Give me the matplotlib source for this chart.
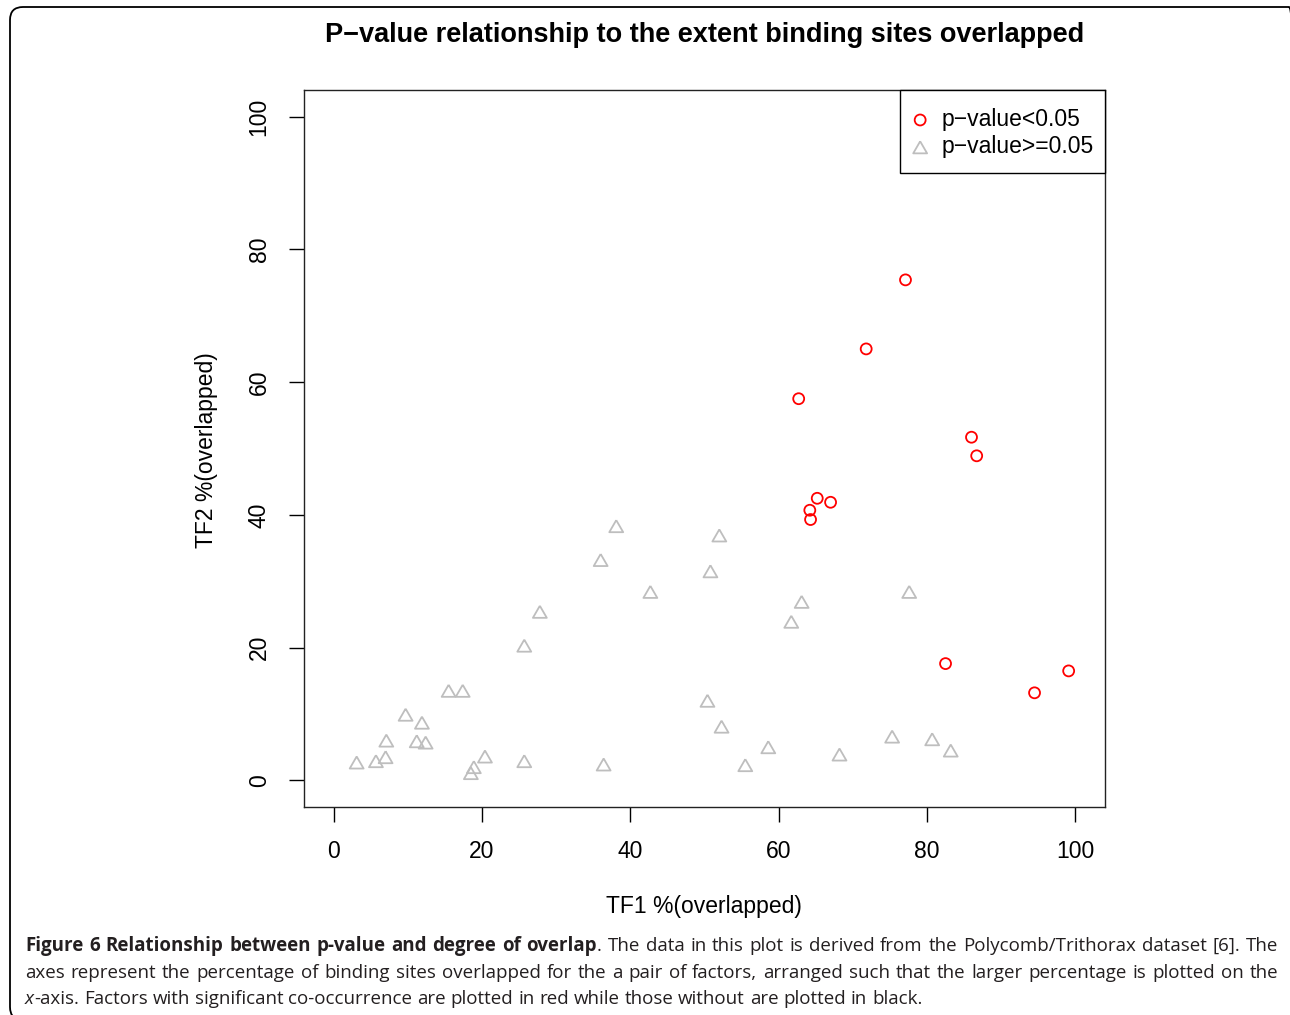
import matplotlib
matplotlib.use('Agg')
import matplotlib.pyplot as plt
from matplotlib.patches import FancyBboxPatch, Rectangle
from matplotlib.transforms import IdentityTransform

# ---------------- data ----------------
sig_x = [77.1, 71.8, 62.7, 86.0, 86.7, 65.2, 67.0, 64.2, 64.3, 82.5, 94.5, 99.1]
sig_y = [75.4, 65.0, 57.5, 51.7, 48.9, 42.5, 41.9, 40.7, 39.3, 17.6, 13.2, 16.5]

ns_x = [38.1, 52.0, 36.0, 50.8, 42.7, 77.6, 63.1, 27.8, 61.7, 25.7, 15.5, 17.4,
        50.4, 9.7, 11.9, 52.3, 7.1, 11.2, 12.4, 75.3, 80.7, 58.6, 83.2, 20.4,
        68.2, 7.0, 3.1, 5.7, 25.7, 36.4, 55.5, 18.9, 18.5]
ns_y = [38.3, 36.9, 33.2, 31.5, 28.4, 28.4, 26.9, 25.4, 23.9, 20.3, 13.5, 13.5,
        12.0, 9.9, 8.7, 8.1, 6.0, 5.9, 5.7, 6.6, 6.2, 5.0, 4.5, 3.6,
        3.9, 3.5, 2.7, 2.9, 2.9, 2.4, 2.3, 2.0, 1.1]

ticks = [0, 20, 40, 60, 80, 100]
tick_labels = ['0', '20', '40', '60', '80', '100']
legend_labels = ['p\u2212value<0.05', 'p\u2212value>=0.05']
title = 'P\u2212value relationship to the extent binding sites overlapped'
xlabel = 'TF1 %(overlapped)'
ylabel = 'TF2 %(overlapped)'

caption_lines = [
    [[('Figure', 'bold', 'normal')], [('6', 'bold', 'normal')], [('Relationship', 'bold', 'normal')],
     [('between', 'bold', 'normal')], [('p-value', 'bold', 'normal')], [('and', 'bold', 'normal')],
     [('degree', 'bold', 'normal')], [('of', 'bold', 'normal')],
     [('overlap', 'bold', 'normal'), ('.', 'normal', 'normal')]]
    + [[(w, 'normal', 'normal')] for w in
       'The data in this plot is derived from the Polycomb/Trithorax dataset [6]. The'.split()],
    [[(w, 'normal', 'normal')] for w in
     ('axes represent the percentage of binding sites overlapped for the a pair of factors, '
      'arranged such that the larger percentage is plotted on the').split()],
    [[('x', 'normal', 'italic'), ('-axis.', 'normal', 'normal')]]
    + [[(w, 'normal', 'normal')] for w in
       'Factors with significant co-occurrence are plotted in red while those without are plotted in black.'.split()],
]

# ---------------- figure ----------------
W, H = 1290, 1015
fig = plt.figure(figsize=(W / 100, H / 100), dpi=100)


def fx(x):
    return x / W


def fy(y):
    return 1 - y / H


# rounded outer frame (pixel coordinates); right and bottom edges run off the page
frame = FancyBboxPatch((10, H - 1020), 1302 - 10, 1020 - 7,
                       boxstyle='round,pad=0,rounding_size=13',
                       transform=IdentityTransform(), fill=False, edgecolor='black',
                       linewidth=1.3, clip_on=False)
fig.patches.append(frame)

sans = ['Liberation Sans', 'DejaVu Sans']
base = 16.5

ax = fig.add_axes([fx(304), fy(807), (1105 - 304) / W, (807 - 90) / H])
ax.set_xlim(-4, 104)
ax.set_ylim(-4, 104)

tri = [(0, 0.75), (-0.866, -0.75), (0.866, -0.75), (0, 0.75)]
h_ns = ax.scatter(ns_x, ns_y, marker=tri, s=100, facecolors='none',
                  edgecolors='#BEBEBE', linewidths=1.3, zorder=3)
h_sig = ax.scatter(sig_x, sig_y, marker='o', s=62, facecolors='none',
                   edgecolors='#FF0000', linewidths=1.3, zorder=4)

ax.set_xticks(ticks)
ax.set_xticklabels(tick_labels, fontfamily=sans, fontsize=base)
ax.set_yticks(ticks)
ax.set_yticklabels(tick_labels, fontfamily=sans, fontsize=base, rotation=90, va='center')
ax.tick_params(length=10.5, width=1.0, direction='out', pad=13.5, colors='black')
for sp in ax.spines.values():
    sp.set_linewidth(1.0)
    sp.set_color('#222222')

# legend box (R style: flush with the top-right corner)
ax.add_patch(Rectangle((fx(900), fy(173)), fx(1105) - fx(900), fy(90) - fy(173),
                       transform=fig.transFigure, facecolor='white', edgecolor='black',
                       linewidth=1.0, zorder=4.5, clip_on=False))
leg = ax.legend([h_sig, h_ns], legend_labels, loc='upper left',
                bbox_to_anchor=(fx(911), fy(108)), bbox_transform=fig.transFigure,
                borderaxespad=0, borderpad=0, frameon=False, scatterpoints=1,
                prop={'family': sans, 'size': base}, handlelength=0.8,
                handletextpad=0.52, labelspacing=0.19)
leg.set_zorder(5)

fig.text(fx(705), fy(35), title, ha='center', va='center', fontsize=19.5,
         fontweight='bold', family=sans)
fig.text(fx(704), fy(906), xlabel, ha='center', va='center', fontsize=base, family=sans)
fig.text(fx(207), fy(450), ylabel, ha='center', va='center', fontsize=base,
         family=sans, rotation=90)

# ---------------- caption (justified) ----------------
renderer = fig.canvas.get_renderer()
cap_font = ['Open Sans', 'DejaVu Sans']
cap_color = '#231F20'
x0, x1 = 25, 1278
baselines = [951, 978, 1004]


def measure(text, weight, style, size):
    t = fig.text(0, 0, text, fontsize=size, fontweight=weight, fontstyle=style,
                 family=cap_font)
    w = t.get_window_extent(renderer).width
    t.remove()
    return w


def word_width(word, size):
    return sum(measure(s, wt, st, size) for s, wt, st in word)


ref = 13.5
space_ref = measure('a a', 'normal', 'normal', ref) - measure('aa', 'normal', 'normal', ref)
need = []
for line in caption_lines[:2]:
    nat = sum(word_width(w, ref) for w in line) + space_ref * (len(line) - 1)
    need.append(nat)
cap_size = ref * min(1.0, (x1 - x0) / max(need))
space = space_ref * cap_size / ref

for i, line in enumerate(caption_lines):
    widths = [word_width(w, cap_size) for w in line]
    if i < 2:
        gap = (x1 - x0 - sum(widths)) / (len(line) - 1)
    else:
        gap = space
    x = x0
    for word, wdt in zip(line, widths):
        xx = x
        for s, wt, st in word:
            fig.text(fx(xx), fy(baselines[i]), s, fontsize=cap_size, fontweight=wt,
                     fontstyle=st, family=cap_font, color=cap_color, va='baseline')
            xx += measure(s, wt, st, cap_size)
        x += wdt + gap

fig.savefig('out.png', dpi=100)
